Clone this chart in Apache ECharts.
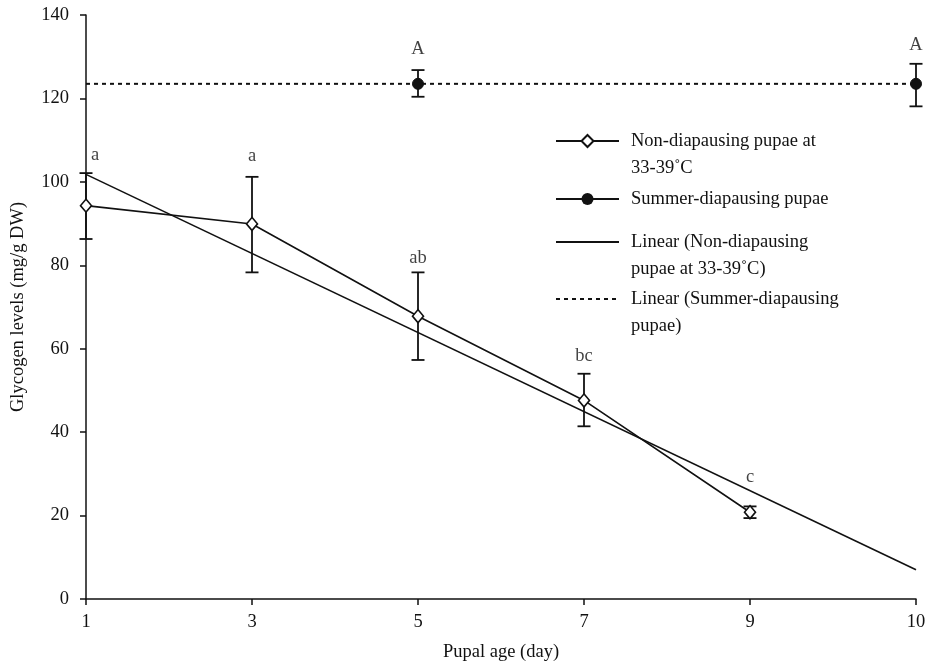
<!DOCTYPE html>
<html>
<head>
<meta charset="utf-8">
<script src="https://cdn.jsdelivr.net/npm/echarts@6/dist/echarts.min.js"></script>
<style>
html,body{margin:0;padding:0;background:#fff;}
#chart{width:930px;height:667px;}
</style>
</head>
<body>
<div id="chart"></div>
<script>
// ---- data ----
const categories = ['1', '3', '5', '7', '9', '10'];
const nonDiapausing = [94.3, 89.9, 67.8, 47.6, 20.8, null];
const nonDiapLow = [86.3, 78.3, 57.3, 41.4, 19.4, null];
const nonDiapHigh = [102.1, 101.2, 78.3, 54.0, 22.2, null];
const nonDiapLetters = ['a', 'a', 'ab', 'bc', 'c', null];
const summerDiapausing = [null, null, 123.5, null, null, 123.5];
const summerLow = [null, null, 120.4, null, null, 118.1];
const summerHigh = [null, null, 126.8, null, null, 128.3];
const summerLetters = [null, null, 'A', null, null, 'A'];
const linearNonDiap = [['1', 101.8], ['10', 7.0]];
const linearSummer = [['1', 123.5], ['10', 123.5]];
const yTicks = [0, 20, 40, 60, 80, 100, 120, 140];

const names = [
  'Non-diapausing pupae at\n33-39˚C',
  'Summer-diapausing pupae',
  'Linear (Non-diapausing\npupae at 33-39˚C)',
  'Linear (Summer-diapausing\npupae)'
];

const FONT = "'Liberation Serif','Times New Roman',serif";
const FS = 18.5;
const INK = '#111';

function errData(low, high) {
  const out = [];
  for (let i = 0; i < categories.length; i++) {
    if (low[i] != null) out.push([categories[i], low[i], high[i]]);
  }
  return out;
}
function letterData(high, letters, distances, offsets) {
  const out = [];
  for (let i = 0; i < categories.length; i++) {
    if (letters[i] != null) {
      out.push({
        value: [categories[i], high[i]],
        label: { formatter: letters[i], distance: distances[i], offset: [offsets[i], 0] }
      });
    }
  }
  return out;
}
function renderErr(params, api) {
  const x = api.value(0);
  const lo = api.coord([x, api.value(1)]);
  const hi = api.coord([x, api.value(2)]);
  const w = 6.5;
  const st = { stroke: INK, lineWidth: 1.8 };
  return {
    type: 'group',
    children: [
      { type: 'line', shape: { x1: lo[0], y1: lo[1], x2: hi[0], y2: hi[1] }, style: st },
      { type: 'line', shape: { x1: lo[0] - w, y1: lo[1], x2: lo[0] + w, y2: lo[1] }, style: st },
      { type: 'line', shape: { x1: hi[0] - w, y1: hi[1], x2: hi[0] + w, y2: hi[1] }, style: st }
    ]
  };
}

const legendBase = {
  orient: 'vertical',
  left: 555,
  padding: 0,
  itemWidth: 63,
  itemHeight: 15,
  selectedMode: false,
  textStyle: { fontFamily: FONT, fontSize: FS, color: INK, lineHeight: 27, padding: [0, 0, 0, 7] }
};
// two-line entries: a blank first line keeps the first text line level with the icon
const firstLineAtIcon = function (name) { return '\u00a0\n' + name; };
const noSymbol = { color: 'rgba(0,0,0,0)', borderColor: 'rgba(0,0,0,0)', borderWidth: 0 };

const option = {
  backgroundColor: '#fff',
  animation: false,
  textStyle: { fontFamily: FONT },
  grid: { left: 86, right: 14, top: 15, bottom: 63, containLabel: false },
  xAxis: {
    type: 'category',
    data: categories,
    boundaryGap: false,
    name: 'Pupal age (day)',
    nameLocation: 'middle',
    nameGap: 44,
    nameTextStyle: { fontFamily: FONT, fontSize: FS, color: INK },
    axisLine: { lineStyle: { color: INK, width: 1.5 } },
    axisTick: { show: true, length: 6, inside: false, alignWithLabel: true, lineStyle: { color: INK, width: 1.5 } },
    axisLabel: { fontFamily: FONT, fontSize: FS, color: INK, margin: 14, showMinLabel: true, showMaxLabel: true, interval: 0 },
    splitLine: { show: false }
  },
  yAxis: {
    type: 'value',
    min: yTicks[0],
    max: yTicks[yTicks.length - 1],
    interval: yTicks[1] - yTicks[0],
    name: 'Glycogen levels (mg/g DW)',
    nameLocation: 'middle',
    nameGap: 58,
    nameTextStyle: { fontFamily: FONT, fontSize: FS, color: INK },
    axisLine: { show: true, lineStyle: { color: INK, width: 1.5 } },
    axisTick: { show: true, length: 6, lineStyle: { color: INK, width: 1.5 } },
    axisLabel: { fontFamily: FONT, fontSize: FS, color: INK, margin: 17 },
    splitLine: { show: false }
  },
  legend: [
    Object.assign({}, legendBase, { top: 141 - 40.5, formatter: firstLineAtIcon, data: [names[0]] }),
    Object.assign({}, legendBase, { top: 199 - 13.5, data: [names[1]] }),
    Object.assign({}, legendBase, { top: 242 - 40.5, formatter: firstLineAtIcon, data: [{ name: names[2], itemStyle: noSymbol }] }),
    Object.assign({}, legendBase, { top: 299 - 40.5, formatter: firstLineAtIcon, data: [{ name: names[3], itemStyle: noSymbol }] })
  ],
  series: [
    {
      name: names[2],
      type: 'line',
      data: linearNonDiap,
      symbol: 'none',
      lineStyle: { color: INK, width: 1.6 },
      itemStyle: { color: INK },
      z: 2
    },
    {
      name: names[3],
      type: 'line',
      data: linearSummer,
      symbol: 'none',
      lineStyle: { color: INK, width: 2, type: [4, 4] },
      itemStyle: { color: INK },
      z: 2
    },
    {
      type: 'custom',
      renderItem: renderErr,
      data: errData(nonDiapLow, nonDiapHigh).concat(errData(summerLow, summerHigh)),
      encode: { x: 0, y: [1, 2] },
      z: 3,
      silent: true
    },
    {
      name: names[0],
      type: 'line',
      data: nonDiapausing,
      symbol: 'diamond',
      symbolSize: [11, 13],
      showAllSymbol: true,
      lineStyle: { color: INK, width: 1.6 },
      itemStyle: { color: '#fff', borderColor: INK, borderWidth: 1.6 },
      z: 4
    },
    {
      name: names[1],
      type: 'line',
      data: summerDiapausing,
      connectNulls: false,
      symbol: 'circle',
      symbolSize: 11,
      showAllSymbol: true,
      lineStyle: { color: INK, width: 1.6 },
      itemStyle: { color: INK, borderColor: INK },
      z: 4
    },
    {
      type: 'scatter',
      symbolSize: 0,
      silent: true,
      data: letterData(nonDiapHigh, nonDiapLetters, [8, 11, 5, 8, 20], [9, 0, 0, 0, 0])
        .concat(letterData(summerHigh, summerLetters, [0, 0, 11, 0, 0, 9], [0, 0, 0, 0, 0, 0])),
      label: { show: true, position: 'top', fontFamily: FONT, fontSize: FS, color: INK },
      z: 5
    }
  ]
};

const chart = echarts.init(document.getElementById('chart'), null, { renderer: 'canvas' });
chart.setOption(option);
</script>
</body>
</html>
